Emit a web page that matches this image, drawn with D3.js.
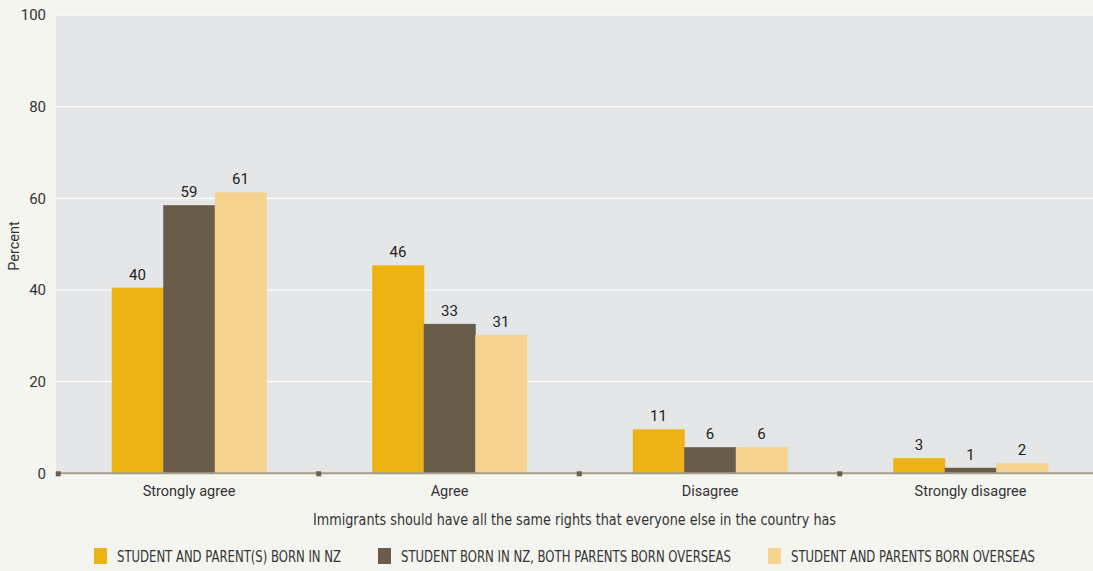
<!DOCTYPE html>
<html><head><meta charset="utf-8">
<script src="https://cdn.jsdelivr.net/npm/d3@7"></script>
<style>body{margin:0;background:#F5F5F0;}svg{display:block;}</style>
</head><body><div id="chart"></div>
<script>
const categories = ["Strongly agree", "Agree", "Disagree", "Strongly disagree"];
const seriesNames = ["STUDENT AND PARENT(S) BORN IN NZ", "STUDENT BORN IN NZ, BOTH PARENTS BORN OVERSEAS", "STUDENT AND PARENTS BORN OVERSEAS"];
const valuesNZ = [40.5, 45.4, 9.6, 3.3];
const valuesNZParentsOverseas = [58.5, 32.6, 5.7, 1.2];
const valuesAllOverseas = [61.3, 30.2, 5.7, 2.2];
const labelsNZ = [40, 46, 11, 3];
const labelsNZParentsOverseas = [59, 33, 6, 1];
const labelsAllOverseas = [61, 31, 6, 2];
const yTicks = [0, 20, 40, 60, 80, 100];
const colors = ["#EDB213", "#695C4A", "#F6D38E"];
const xTitle = "Immigrants should have all the same rights that everyone else in the country has";
const yTitle = "Percent";

const series = [
  {name: seriesNames[0], values: valuesNZ, labels: labelsNZ},
  {name: seriesNames[1], values: valuesNZParentsOverseas, labels: labelsNZParentsOverseas},
  {name: seriesNames[2], values: valuesAllOverseas, labels: labelsAllOverseas}
];

const W = 1093, H = 571;
const svg = d3.select("#chart").append("svg").attr("width", W).attr("height", H);
svg.append("rect").attr("width", W).attr("height", H).attr("fill", "#F5F5F0");

const plotLeft = 56, plotTop = 15, plotBottom = 473.3;
const x = d3.scaleBand().domain(categories).range([58.75, 1100.75]).paddingInner(0).paddingOuter(0);
const y = d3.scaleLinear().domain([0, 100]).range([plotBottom, plotTop]);
const groupW = 154.5;
const xs = d3.scaleBand().domain(d3.range(series.length)).range([0, groupW]);
const mainFont = "Roboto, 'Open Sans', sans-serif";
const narrowFont = "'Liberation Sans Narrow', 'DejaVu Sans Condensed', sans-serif";

svg.append("rect").attr("x", plotLeft).attr("y", plotTop).attr("width", W - plotLeft).attr("height", plotBottom - plotTop).attr("fill", "#E5E6E8");

// grid
svg.append("g").selectAll("line").data(yTicks.filter(d => d > 0)).join("line")
  .attr("x1", plotLeft).attr("x2", W).attr("y1", d => y(d)).attr("y2", d => y(d))
  .attr("stroke", "#FFFFFF").attr("stroke-width", 1.2);

// y axis labels
const yAxis = d3.axisLeft(y).tickValues(yTicks).tickSize(0).tickPadding(10);
const gy = svg.append("g").attr("transform", `translate(${plotLeft},0)`).call(yAxis);
gy.select(".domain").remove();
gy.selectAll("text").attr("font-family", mainFont).attr("font-size", 15).attr("fill", "#333");

svg.append("text").attr("transform", `translate(19,246) rotate(-90)`)
  .attr("text-anchor", "middle").attr("font-family", mainFont).attr("font-size", 14.5).attr("fill", "#333").text(yTitle);

// bars
const groups = svg.append("g").selectAll("g").data(categories).join("g")
  .attr("transform", c => `translate(${x(c) + (x.bandwidth() - groupW) / 2},0)`);
groups.each(function(c, ci) {
  const g = d3.select(this);
  series.forEach((s, si) => {
    g.append("rect").attr("x", xs(si)).attr("width", xs.bandwidth() + 0.5)
      .attr("y", y(s.values[ci])).attr("height", y(0) - y(s.values[ci])).attr("fill", colors[si]);
    g.append("text").attr("x", xs(si) + xs.bandwidth() / 2).attr("y", y(s.values[ci]) - 8)
      .attr("text-anchor", "middle").attr("font-family", mainFont).attr("font-size", 15).attr("fill", "#222")
      .text(s.labels[ci]);
  });
});

// baseline
svg.append("line").attr("x1", plotLeft).attr("x2", W).attr("y1", plotBottom).attr("y2", plotBottom)
  .attr("stroke", "#A39C8C").attr("stroke-width", 2);

// x axis ticks (small squares) and labels
const xAxis = d3.axisBottom(x).tickSize(0).tickPadding(12);
const gx = svg.append("g").attr("transform", `translate(0,${plotBottom})`).call(xAxis);
gx.select(".domain").remove();
gx.selectAll("text").attr("font-family", mainFont).attr("font-size", 14.5).attr("fill", "#333");
svg.append("g").selectAll("rect").data(categories).join("rect")
  .attr("x", c => x(c) - 3).attr("y", plotBottom - 2).attr("width", 5).attr("height", 5).attr("fill", "#6B5E4C");

svg.append("text").attr("x", 313).attr("y", 525)
  .attr("textLength", 523).attr("lengthAdjust", "spacingAndGlyphs")
  .attr("font-family", narrowFont).attr("font-size", 16.5).attr("fill", "#333").text(xTitle);

// legend
const legendX = [94, 378, 768];
const legendTextW = [224, 330, 244];
const lg = svg.append("g").selectAll("g").data(series).join("g")
  .attr("transform", (d, i) => `translate(${legendX[i]},548)`);
lg.append("rect").attr("width", 13).attr("height", 16).attr("fill", (d, i) => colors[i]);
lg.append("text").attr("x", 23).attr("y", 14)
  .attr("textLength", (d, i) => legendTextW[i]).attr("lengthAdjust", "spacingAndGlyphs")
  .attr("font-family", narrowFont).attr("font-size", 15).attr("fill", "#333").text(d => d.name);
</script></body></html>
